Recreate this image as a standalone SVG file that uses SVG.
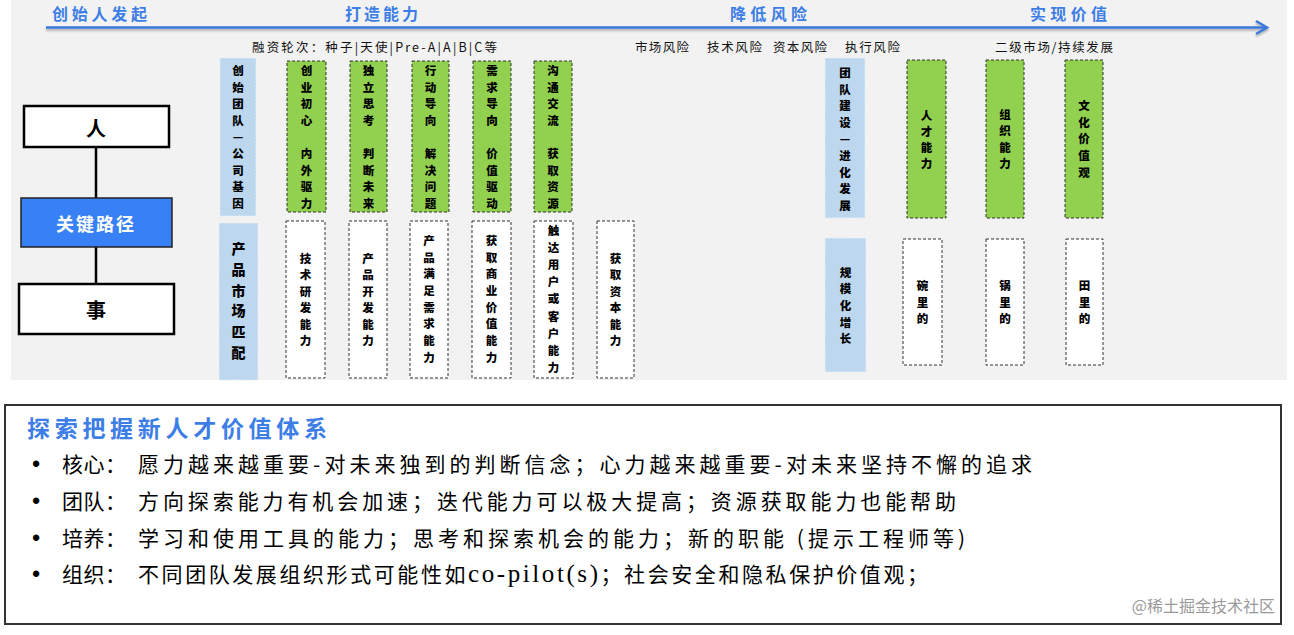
<svg xmlns="http://www.w3.org/2000/svg" width="1294" height="635" viewBox="0 0 1294 635">
<style>
.cjk{font-family:"Noto Sans CJK SC","Noto Sans",sans-serif}
.hdr{font-size:16px;font-weight:bold;fill:#3d7ee6}
.sub{font-size:12.5px;fill:#111}
.vt{font-size:11.5px;font-weight:900;fill:#000;text-anchor:middle;dominant-baseline:central}
.vtb{font-size:14px;font-weight:900;fill:#000;text-anchor:middle;dominant-baseline:central}
.blue{fill:#bdd7ee;stroke:#e8f0f8;stroke-width:1;stroke-dasharray:2 1.5}
.green{fill:#92d050;stroke:#333;stroke-width:1;stroke-dasharray:3 2}
.white{fill:#fff;stroke:#333;stroke-width:1;stroke-dasharray:3 2}
.lbox{fill:#fff;stroke:#000;stroke-width:2.5}
.dash{fill:none;stroke:#22406a;stroke-width:3;stroke-dasharray:9 5}
.body{font-size:21px;fill:#000;dominant-baseline:central}
</style>
<defs>
<filter id="sh" x="-5%" y="-50%" width="110%" height="250%">
<feDropShadow dx="0" dy="2" stdDeviation="1.2" flood-color="#000" flood-opacity="0.3"/>
</filter>
<marker id="chev" markerUnits="userSpaceOnUse" markerWidth="14" markerHeight="16" refX="11" refY="7" orient="auto">
<path d="M1,1 L11,7 L1,13" fill="none" stroke="#22406a" stroke-width="2.5"/>
</marker>
</defs>

<rect x="11" y="0" width="1276" height="380" fill="#f2f2f2"/>

<g id="timeline">
<g filter="url(#sh)">
<line x1="46" y1="27.5" x2="1265" y2="27.5" stroke="#3b78dc" stroke-width="2.5"/>
<path d="M1256,21 L1267,27.5 L1256,34" fill="none" stroke="#3b78dc" stroke-width="2.5"/>
</g>
<text class="cjk hdr" x="52" y="19.5" textLength="95" lengthAdjust="spacing">创始人发起</text>
<text class="cjk hdr" x="345" y="19.5" textLength="73" lengthAdjust="spacing">打造能力</text>
<text class="cjk hdr" x="730" y="19.5" textLength="77" lengthAdjust="spacing">降低风险</text>
<text class="cjk hdr" x="1030" y="19.5" textLength="77" lengthAdjust="spacing">实现价值</text>
<text class="cjk sub" x="252" y="51.5" textLength="245" lengthAdjust="spacing">融资轮次：种子|天使|Pre-A|A|B|C等</text>
<text class="cjk sub" x="635" y="51.5" textLength="54" lengthAdjust="spacing">市场风险</text>
<text class="cjk sub" x="707" y="51.5" textLength="55" lengthAdjust="spacing">技术风险</text>
<text class="cjk sub" x="773" y="51.5" textLength="54" lengthAdjust="spacing">资本风险</text>
<text class="cjk sub" x="845" y="51.5" textLength="55" lengthAdjust="spacing">执行风险</text>
<text class="cjk sub" x="995" y="51.5" textLength="118" lengthAdjust="spacing">二级市场/持续发展</text>
</g>

<g id="connectors">
<line x1="96" y1="147" x2="96" y2="198" stroke="#000" stroke-width="2.5"/>
<line x1="96" y1="247" x2="96" y2="284" stroke="#000" stroke-width="2.5"/>
<line class="dash" x1="171" y1="127" x2="1250" y2="127" marker-end="url(#chev)" filter="url(#sh)"/>
<line class="dash" x1="176" y1="310" x2="1252" y2="310" marker-end="url(#chev)" filter="url(#sh)"/>
</g>

<g id="node-ren">
<rect class="lbox" x="24" y="106" width="145" height="41"/>
<text class="cjk" x="96" y="127" font-size="20" font-weight="bold" text-anchor="middle" dominant-baseline="central">人</text>
</g>
<g id="node-path">
<rect x="21" y="198" width="151" height="49" fill="#3880f5" stroke="#222" stroke-width="1.5"/>
<text class="cjk" x="96" y="222.5" font-size="18" font-weight="bold" fill="#fff" text-anchor="middle" dominant-baseline="central" letter-spacing="2">关键路径</text>
</g>
<g id="node-shi">
<rect class="lbox" x="19" y="284" width="155" height="50"/>
<text class="cjk" x="96" y="309" font-size="20" font-weight="bold" text-anchor="middle" dominant-baseline="central">事</text>
</g>

<g id="col-team-gene">
<rect class="blue" x="220" y="58" width="36" height="158"/>
<text class="cjk vt"><tspan x="238" y="70">创</tspan><tspan x="238" y="87">始</tspan><tspan x="238" y="103">团</tspan><tspan x="238" y="120">队</tspan><tspan x="238" y="136">—</tspan><tspan x="238" y="153">公</tspan><tspan x="238" y="170">司</tspan><tspan x="238" y="186">基</tspan><tspan x="238" y="203">因</tspan></text>
</g>
<g id="col-pmf">
<rect class="blue" x="219" y="223" width="39" height="157"/>
<text class="cjk vtb"><tspan x="238.5" y="248">产</tspan><tspan x="238.5" y="269">品</tspan><tspan x="238.5" y="290">市</tspan><tspan x="238.5" y="310">场</tspan><tspan x="238.5" y="331">匹</tspan><tspan x="238.5" y="352">配</tspan></text>
</g>

<g id="col-g1">
<rect class="green" x="287" y="61" width="39" height="151"/>
<text class="cjk vt"><tspan x="306.5" y="70">创</tspan><tspan x="306.5" y="87">业</tspan><tspan x="306.5" y="103">初</tspan><tspan x="306.5" y="120">心</tspan><tspan x="306.5" y="153">内</tspan><tspan x="306.5" y="170">外</tspan><tspan x="306.5" y="186">驱</tspan><tspan x="306.5" y="203">力</tspan></text>
</g>
<g id="col-g2">
<rect class="green" x="350" y="61" width="37" height="151"/>
<text class="cjk vt"><tspan x="368.5" y="70">独</tspan><tspan x="368.5" y="87">立</tspan><tspan x="368.5" y="103">思</tspan><tspan x="368.5" y="120">考</tspan><tspan x="368.5" y="153">判</tspan><tspan x="368.5" y="170">断</tspan><tspan x="368.5" y="186">未</tspan><tspan x="368.5" y="203">来</tspan></text>
</g>
<g id="col-g3">
<rect class="green" x="412" y="61" width="37" height="151"/>
<text class="cjk vt"><tspan x="430.5" y="70">行</tspan><tspan x="430.5" y="87">动</tspan><tspan x="430.5" y="103">导</tspan><tspan x="430.5" y="120">向</tspan><tspan x="430.5" y="153">解</tspan><tspan x="430.5" y="170">决</tspan><tspan x="430.5" y="186">问</tspan><tspan x="430.5" y="203">题</tspan></text>
</g>
<g id="col-g4">
<rect class="green" x="473" y="61" width="38" height="151"/>
<text class="cjk vt"><tspan x="492" y="70">需</tspan><tspan x="492" y="87">求</tspan><tspan x="492" y="103">导</tspan><tspan x="492" y="120">向</tspan><tspan x="492" y="153">价</tspan><tspan x="492" y="170">值</tspan><tspan x="492" y="186">驱</tspan><tspan x="492" y="203">动</tspan></text>
</g>
<g id="col-g5">
<rect class="green" x="534" y="61" width="38" height="151"/>
<text class="cjk vt"><tspan x="553" y="70">沟</tspan><tspan x="553" y="87">通</tspan><tspan x="553" y="103">交</tspan><tspan x="553" y="120">流</tspan><tspan x="553" y="153">获</tspan><tspan x="553" y="170">取</tspan><tspan x="553" y="186">资</tspan><tspan x="553" y="203">源</tspan></text>
</g>

<g id="col-w1">
<rect class="white" x="286" y="221" width="39" height="157"/>
<text class="cjk vt"><tspan x="305.5" y="258">技</tspan><tspan x="305.5" y="274">术</tspan><tspan x="305.5" y="291">研</tspan><tspan x="305.5" y="307">发</tspan><tspan x="305.5" y="324">能</tspan><tspan x="305.5" y="340">力</tspan></text>
</g>
<g id="col-w2">
<rect class="white" x="349" y="221" width="38" height="157"/>
<text class="cjk vt"><tspan x="368" y="258">产</tspan><tspan x="368" y="274">品</tspan><tspan x="368" y="291">开</tspan><tspan x="368" y="307">发</tspan><tspan x="368" y="324">能</tspan><tspan x="368" y="340">力</tspan></text>
</g>
<g id="col-w3">
<rect class="white" x="410" y="221" width="38" height="157"/>
<text class="cjk vt"><tspan x="429" y="240">产</tspan><tspan x="429" y="257">品</tspan><tspan x="429" y="273">满</tspan><tspan x="429" y="290">足</tspan><tspan x="429" y="307">需</tspan><tspan x="429" y="323">求</tspan><tspan x="429" y="340">能</tspan><tspan x="429" y="357">力</tspan></text>
</g>
<g id="col-w4">
<rect class="white" x="472" y="221" width="39" height="157"/>
<text class="cjk vt"><tspan x="491.5" y="240">获</tspan><tspan x="491.5" y="257">取</tspan><tspan x="491.5" y="273">商</tspan><tspan x="491.5" y="290">业</tspan><tspan x="491.5" y="307">价</tspan><tspan x="491.5" y="323">值</tspan><tspan x="491.5" y="340">能</tspan><tspan x="491.5" y="357">力</tspan></text>
</g>
<g id="col-w5">
<rect class="white" x="534" y="221" width="39" height="157"/>
<text class="cjk vt"><tspan x="553.5" y="230">触</tspan><tspan x="553.5" y="247">达</tspan><tspan x="553.5" y="264">用</tspan><tspan x="553.5" y="281">户</tspan><tspan x="553.5" y="298">或</tspan><tspan x="553.5" y="316">客</tspan><tspan x="553.5" y="333">户</tspan><tspan x="553.5" y="350">能</tspan><tspan x="553.5" y="367">力</tspan></text>
</g>
<g id="col-w6">
<rect class="white" x="597" y="221" width="37" height="157"/>
<text class="cjk vt"><tspan x="615.5" y="258">获</tspan><tspan x="615.5" y="274">取</tspan><tspan x="615.5" y="291">资</tspan><tspan x="615.5" y="307">本</tspan><tspan x="615.5" y="324">能</tspan><tspan x="615.5" y="340">力</tspan></text>
</g>

<g id="col-team-evo">
<rect class="blue" x="825" y="58" width="40" height="160"/>
<text class="cjk vt"><tspan x="845" y="72">团</tspan><tspan x="845" y="89">队</tspan><tspan x="845" y="105">建</tspan><tspan x="845" y="122">设</tspan><tspan x="845" y="138">—</tspan><tspan x="845" y="155">进</tspan><tspan x="845" y="172">化</tspan><tspan x="845" y="188">发</tspan><tspan x="845" y="205">展</tspan></text>
</g>
<g id="col-scale">
<rect class="blue" x="825" y="238" width="41" height="134"/>
<text class="cjk vt"><tspan x="845.5" y="272">规</tspan><tspan x="845.5" y="288">模</tspan><tspan x="845.5" y="305">化</tspan><tspan x="845.5" y="322">增</tspan><tspan x="845.5" y="338">长</tspan></text>
</g>
<g id="col-g6">
<rect class="green" x="907" y="60" width="39" height="158"/>
<text class="cjk vt"><tspan x="926.5" y="115">人</tspan><tspan x="926.5" y="131">才</tspan><tspan x="926.5" y="147">能</tspan><tspan x="926.5" y="163">力</tspan></text>
</g>
<g id="col-g7">
<rect class="green" x="986" y="60" width="38" height="158"/>
<text class="cjk vt"><tspan x="1005" y="114">组</tspan><tspan x="1005" y="130">织</tspan><tspan x="1005" y="147">能</tspan><tspan x="1005" y="163">力</tspan></text>
</g>
<g id="col-g8">
<rect class="green" x="1065" y="60" width="38" height="158"/>
<text class="cjk vt"><tspan x="1084" y="105">文</tspan><tspan x="1084" y="122">化</tspan><tspan x="1084" y="138">价</tspan><tspan x="1084" y="155">值</tspan><tspan x="1084" y="172">观</tspan></text>
</g>
<g id="col-w7">
<rect class="white" x="903" y="239" width="39" height="126"/>
<text class="cjk vt"><tspan x="922.5" y="285">碗</tspan><tspan x="922.5" y="302">里</tspan><tspan x="922.5" y="318">的</tspan></text>
</g>
<g id="col-w8">
<rect class="white" x="986" y="239" width="38" height="126"/>
<text class="cjk vt"><tspan x="1005" y="285">锅</tspan><tspan x="1005" y="302">里</tspan><tspan x="1005" y="318">的</tspan></text>
</g>
<g id="col-w9">
<rect class="white" x="1066" y="239" width="37" height="126"/>
<text class="cjk vt"><tspan x="1084.5" y="285">田</tspan><tspan x="1084.5" y="302">里</tspan><tspan x="1084.5" y="318">的</tspan></text>
</g>

<g id="panel">
<rect x="5" y="405" width="1276" height="219" fill="#fff" stroke="#333" stroke-width="2"/>
<text class="cjk" x="27" y="427" font-size="23" font-weight="bold" fill="#3d7ee6" dominant-baseline="central" textLength="300" lengthAdjust="spacing">探索把握新人才价值体系</text>
<g font-family="Liberation Sans, sans-serif" font-size="22" font-weight="bold" text-anchor="middle" dominant-baseline="central">
<text x="36" y="463">•</text>
<text x="36" y="500">•</text>
<text x="36" y="537">•</text>
<text x="36" y="573">•</text>
</g>
<text class="cjk body" x="62" y="463" textLength="64" lengthAdjust="spacing">核心：</text>
<text class="cjk body" x="62" y="500" textLength="64" lengthAdjust="spacing">团队：</text>
<text class="cjk body" x="62" y="537" textLength="64" lengthAdjust="spacing">培养：</text>
<text class="cjk body" x="62" y="573" textLength="64" lengthAdjust="spacing">组织：</text>
<text class="cjk body" x="138" y="463" textLength="894" lengthAdjust="spacing">愿力越来越重要-对未来独到的判断信念；心力越来越重要-对未来坚持不懈的追求</text>
<text class="cjk body" x="138" y="500" textLength="818" lengthAdjust="spacing">方向探索能力有机会加速；迭代能力可以极大提高；资源获取能力也能帮助</text>
<text class="cjk body" x="138" y="537" textLength="827" lengthAdjust="spacing">学习和使用工具的能力；思考和探索机会的能力；新的职能 (提示工程师等)</text>
<text class="cjk body" x="138" y="573" textLength="790" lengthAdjust="spacing">不同团队发展组织形式可能性如<tspan font-family="Liberation Serif, serif" font-size="25">co-pilot(s)</tspan>；社会安全和隐私保护价值观；</text>
<text class="cjk" x="1275" y="605" font-size="16" fill="#9a9a9a" text-anchor="end" dominant-baseline="central">@稀土掘金技术社区</text>
</g>
</svg>
